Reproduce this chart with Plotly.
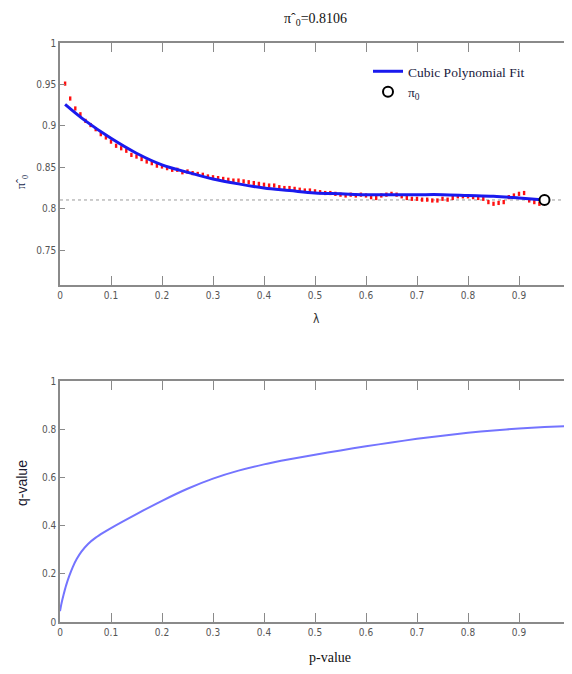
import plotly.graph_objects as go
from plotly.subplots import make_subplots

# ---- data ----
lambdas = [round(0.01 * i, 2) for i in range(1, 96)]
pi0_estimates = [
    0.951, 0.933, 0.921, 0.914, 0.906, 0.901, 0.896, 0.890, 0.886, 0.881,
    0.876, 0.873, 0.870, 0.865, 0.863, 0.860, 0.857, 0.855, 0.852, 0.851,
    0.849, 0.847, 0.847, 0.844,
    0.845, 0.843, 0.842, 0.841, 0.839, 0.838, 0.837, 0.836, 0.835, 0.834,
    0.834, 0.833, 0.832, 0.831, 0.830, 0.829, 0.828, 0.828, 0.826, 0.825,
    0.825, 0.824, 0.823, 0.822, 0.822, 0.821,
    0.820, 0.819, 0.819, 0.818, 0.817, 0.816, 0.817, 0.816, 0.817, 0.816,
    0.814, 0.813, 0.816, 0.817, 0.818, 0.817, 0.815, 0.813, 0.812, 0.812,
    0.811, 0.811, 0.810, 0.810, 0.812,
    0.811, 0.813, 0.815, 0.815, 0.815, 0.814, 0.813, 0.812, 0.808, 0.806,
    0.807, 0.808, 0.814, 0.816, 0.818, 0.819, 0.810, 0.808, 0.806, 0.808,
]

fit_lambda = [0.01, 0.05, 0.10, 0.15, 0.20, 0.25, 0.30, 0.35, 0.40, 0.45,
              0.50, 0.55, 0.60, 0.65, 0.70, 0.75, 0.80, 0.85, 0.90, 0.95]
fit_values = [0.926, 0.906, 0.885, 0.867, 0.853, 0.844, 0.836, 0.830, 0.825, 0.822,
              0.819, 0.818, 0.817, 0.817, 0.817, 0.817, 0.816, 0.815, 0.813, 0.8106]

pi0_hat = 0.8106
pi0_lambda = 0.95

p_values = [0, 0.003, 0.007, 0.012, 0.018, 0.025, 0.033, 0.042, 0.055, 0.07, 0.085,
            0.10, 0.15, 0.20, 0.25, 0.30, 0.35, 0.40, 0.45, 0.50, 0.55, 0.60, 0.65,
            0.70, 0.75, 0.80, 0.85, 0.90, 0.95, 1.0]
q_values = [0.045, 0.078, 0.113, 0.152, 0.190, 0.228, 0.262, 0.292, 0.324, 0.350, 0.371,
            0.390, 0.448, 0.503, 0.553, 0.595, 0.628, 0.654, 0.675, 0.694, 0.712, 0.729,
            0.745, 0.760, 0.773, 0.785, 0.795, 0.803, 0.809, 0.8135]

x_ticks = [0, 0.1, 0.2, 0.3, 0.4, 0.5, 0.6, 0.7, 0.8, 0.9, 1]
x_tick_text = ["0", "0.1", "0.2", "0.3", "0.4", "0.5", "0.6", "0.7", "0.8", "0.9", "1"]

# ---- geometry (page pixels; the page body adds an 8px offset) ----
OFF = 8
W, H = 564, 658
ml, mr, mt, mb = 60 - OFF, W - (570 - OFF), 43 - OFF, H - (622 - OFF)
pw, ph = W - ml - mr, H - mt - mb
top_h = 285 - 43
bot_h = 622 - 381
gap = 381 - 285

fig = make_subplots(rows=2, cols=1, vertical_spacing=gap / ph)

fig.add_trace(go.Scatter(
    x=[0, 1], y=[pi0_hat, pi0_hat], mode="lines",
    line=dict(color="#9a9a9a", width=1, dash="dot"),
    showlegend=False, hoverinfo="skip"), row=1, col=1)

fig.add_trace(go.Scatter(
    x=lambdas, y=pi0_estimates, mode="markers",
    marker=dict(symbol="line-ns", size=3, line=dict(color="#ff1010", width=2.4)),
    showlegend=False), row=1, col=1)

fig.add_trace(go.Scatter(
    x=fit_lambda, y=fit_values, mode="lines", line_shape="spline",
    line=dict(color="#1a1aee", width=3),
    name="Cubic Polynomial Fit"), row=1, col=1)

fig.add_trace(go.Scatter(
    x=[pi0_lambda], y=[pi0_hat], mode="markers",
    marker=dict(symbol="circle", size=10, color="white",
                line=dict(color="black", width=2)),
    name="π<sub>0</sub>"), row=1, col=1)

fig.add_trace(go.Scatter(
    x=p_values, y=q_values, mode="lines", line_shape="spline",
    line=dict(color="#7474ff", width=2, smoothing=0.8),
    showlegend=False), row=2, col=1)

tickfont = dict(family="Liberation Sans Narrow, DejaVu Sans Condensed, Arial Narrow, sans-serif",
                size=10, color="#555555")
axis_common = dict(showgrid=False, zeroline=False, showline=True, linecolor="#8a8a8a",
                   linewidth=1.5, mirror="ticks", ticks="inside", tickcolor="#8a8a8a",
                   tickwidth=1.2, tickfont=tickfont, automargin=False)

fig.update_xaxes(**axis_common, range=[0, 1], tickvals=x_ticks, ticktext=x_tick_text,
                 ticklen=9)
fig.update_yaxes(**axis_common, ticklen=5)
fig.update_yaxes(range=[0.708, 1], tickvals=[0.75, 0.8, 0.85, 0.9, 0.95, 1],
                 ticktext=["0.75", "0.8", "0.85", "0.9", "0.95", "1"],
                 domain=[1 - top_h / ph, 1], row=1, col=1)
fig.update_yaxes(range=[0, 1], tickvals=[0, 0.2, 0.4, 0.6, 0.8, 1],
                 ticktext=["0", "0.2", "0.4", "0.6", "0.8", "1"],
                 domain=[0, bot_h / ph], row=2, col=1)


def px_to_paper(px, py):
    # px, py are page pixels of the reference
    return (px - OFF - ml) / pw, (H - mb - (py - OFF)) / ph


serif = "Liberation Serif, Times New Roman, serif"
lx, ly = px_to_paper(368, 56)

fig.update_layout(
    width=W, height=H, autosize=False,
    margin=dict(l=ml, r=mr, t=mt, b=mb, autoexpand=False),
    paper_bgcolor="white", plot_bgcolor="white",
    legend=dict(x=lx, y=ly, xanchor="left", yanchor="top",
                bgcolor="rgba(0,0,0,0)", borderwidth=0,
                font=dict(family=serif, size=13.5, color="#1a1a40"),
                itemwidth=30, tracegroupgap=0),
)

annots = []


def add_text(text, px, py, font, angle=0):
    tx, ty = px_to_paper(px, py)
    annots.append(dict(text=text, x=tx, y=ty, xref="paper", yref="paper",
                       xanchor="center", yanchor="middle", showarrow=False,
                       textangle=angle, font=font))


add_text("π\u02c6<sub>0</sub>=0.8106", 315, 19, dict(family=serif, size=14, color="#111111"))
add_text("λ", 316, 319, dict(family="Liberation Sans Narrow, DejaVu Sans Condensed, sans-serif",
                             size=12, color="#333333"))
add_text("π\u02c6<sub>0</sub>", 22, 182, dict(family=serif, size=12, color="#1a2a50"), -90)
add_text("q-value", 22, 483, dict(family="Liberation Sans, Arial, sans-serif", size=14,
                                  color="#1a1a30"), -90)
add_text("p-value", 330, 657, dict(family=serif, size=14, color="#111111"))
fig.layout.annotations = annots

fig.write_html("out.html")
